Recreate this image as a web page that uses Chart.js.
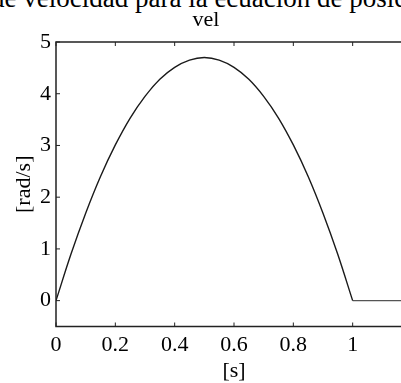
<!DOCTYPE html>
<html>
<head>
<meta charset="utf-8">
<script src="https://cdn.jsdelivr.net/npm/chart.js@4"></script>
<style>
  html, body { margin: 0; padding: 0; background: #fff; overflow: hidden; width: 401px; height: 383px; position: relative; }
  #doc { position: absolute; left: -9px; top: -15.3px; font: 27px/27px "Liberation Serif", serif; white-space: nowrap; color: #000; }
  #c { position: absolute; left: 0; top: 0; }
</style>
</head>
<body>
<div id="doc">de velocidad para la ecuación de posición</div>
<canvas id="c" width="430" height="383"></canvas>
<script>
// ── DATA ─────────────────────────────────────────────────────
const tVals = [0, 0.05, 0.1, 0.15, 0.2, 0.25, 0.3, 0.35, 0.4, 0.45, 0.5,
	0.55, 0.6, 0.65, 0.7, 0.75, 0.8, 0.85, 0.9, 0.95, 1];
const velVals = [0, 0.89, 1.69, 2.40, 3.01, 3.53, 3.95, 4.28, 4.51, 4.65, 4.70,
	4.65, 4.51, 4.28, 3.95, 3.53, 3.01, 2.40, 1.69, 0.89, 0];
// after t = 1 the velocity stays at zero
const tTail = [1, 1.2];
const velTail = [0, 0];
const xTicks = [0, 0.2, 0.4, 0.6, 0.8, 1];
const yTicks = [0, 1, 2, 3, 4, 5];

const SERIF = '"Liberation Serif", "Times New Roman", serif';
const toPts = (xs, ys) => xs.map((t, i) => ({ x: t, y: ys[i] }));

// box + inward ticks, matlab style
const frame = {
	id: 'frame',
	afterDatasetsDraw(chart) {
		const { ctx, chartArea: a, scales: { x, y } } = chart;
		ctx.save();
		ctx.strokeStyle = '#222';
		ctx.lineWidth = 1.5;
		ctx.strokeRect(a.left, a.top, a.right - a.left, a.bottom - a.top);
		ctx.lineWidth = 1;
		ctx.beginPath();
		x.ticks.forEach(t => {
			const px = x.getPixelForValue(t.value);
			ctx.moveTo(px, a.bottom); ctx.lineTo(px, a.bottom - 4);
			ctx.moveTo(px, a.top); ctx.lineTo(px, a.top + 4);
		});
		y.ticks.forEach(t => {
			const py = y.getPixelForValue(t.value);
			ctx.moveTo(a.left, py); ctx.lineTo(a.left + 4, py);
			ctx.moveTo(a.right, py); ctx.lineTo(a.right - 4, py);
		});
		ctx.stroke();
		ctx.restore();
	}
};

const lineStyle = { borderColor: '#1a1a1a', borderWidth: 1.4, pointRadius: 0, fill: false };

new Chart(document.getElementById('c'), {
	type: 'line',
	data: {
		datasets: [
			{ ...lineStyle, data: toPts(tVals, velVals), cubicInterpolationMode: 'monotone' },
			{ ...lineStyle, data: toPts(tTail, velTail), borderColor: '#555' }
		]
	},
	options: {
		responsive: false,
		animation: false,
		layout: { padding: { left: 0, right: 18, top: 0, bottom: 0 } },
		plugins: {
			legend: { display: false },
			tooltip: { enabled: false },
			title: {
				display: true,
				text: 'vel',
				color: '#000',
				font: { family: SERIF, size: 22, weight: 'normal', lineHeight: 1.2 },
				padding: { top: 7, bottom: 8.6 }
			}
		},
		scales: {
			x: {
				type: 'linear',
				min: 0, max: 1.2,
				afterBuildTicks: s => { s.ticks = xTicks.map(v => ({ value: v })); },
				afterFit: s => { s.height = 56.5; },
				grid: { display: false, drawTicks: false },
				border: { display: false },
				ticks: {
					color: '#000', padding: 6, maxRotation: 0, autoSkip: false,
					font: { family: SERIF, size: 22 },
					callback: v => String(v)
				},
				title: {
					display: true, text: '[s]', color: '#000',
					font: { family: SERIF, size: 22, lineHeight: 1 },
					padding: { top: 0, bottom: 0.3 }
				}
			},
			y: {
				min: -0.5, max: 5,
				afterBuildTicks: s => { s.ticks = yTicks.map(v => ({ value: v })); },
				afterFit: s => { s.width = 56; },
				grid: { display: false, drawTicks: false },
				border: { display: false },
				ticks: {
					color: '#000', padding: 5, autoSkip: false,
					font: { family: SERIF, size: 22 },
					callback: v => String(v)
				},
				title: {
					display: true, text: '[rad/s]', color: '#000',
					font: { family: SERIF, size: 22, lineHeight: 1 },
					padding: { top: 13, bottom: 0 }
				}
			}
		}
	},
	plugins: [frame]
});
</script>
</body>
</html>
